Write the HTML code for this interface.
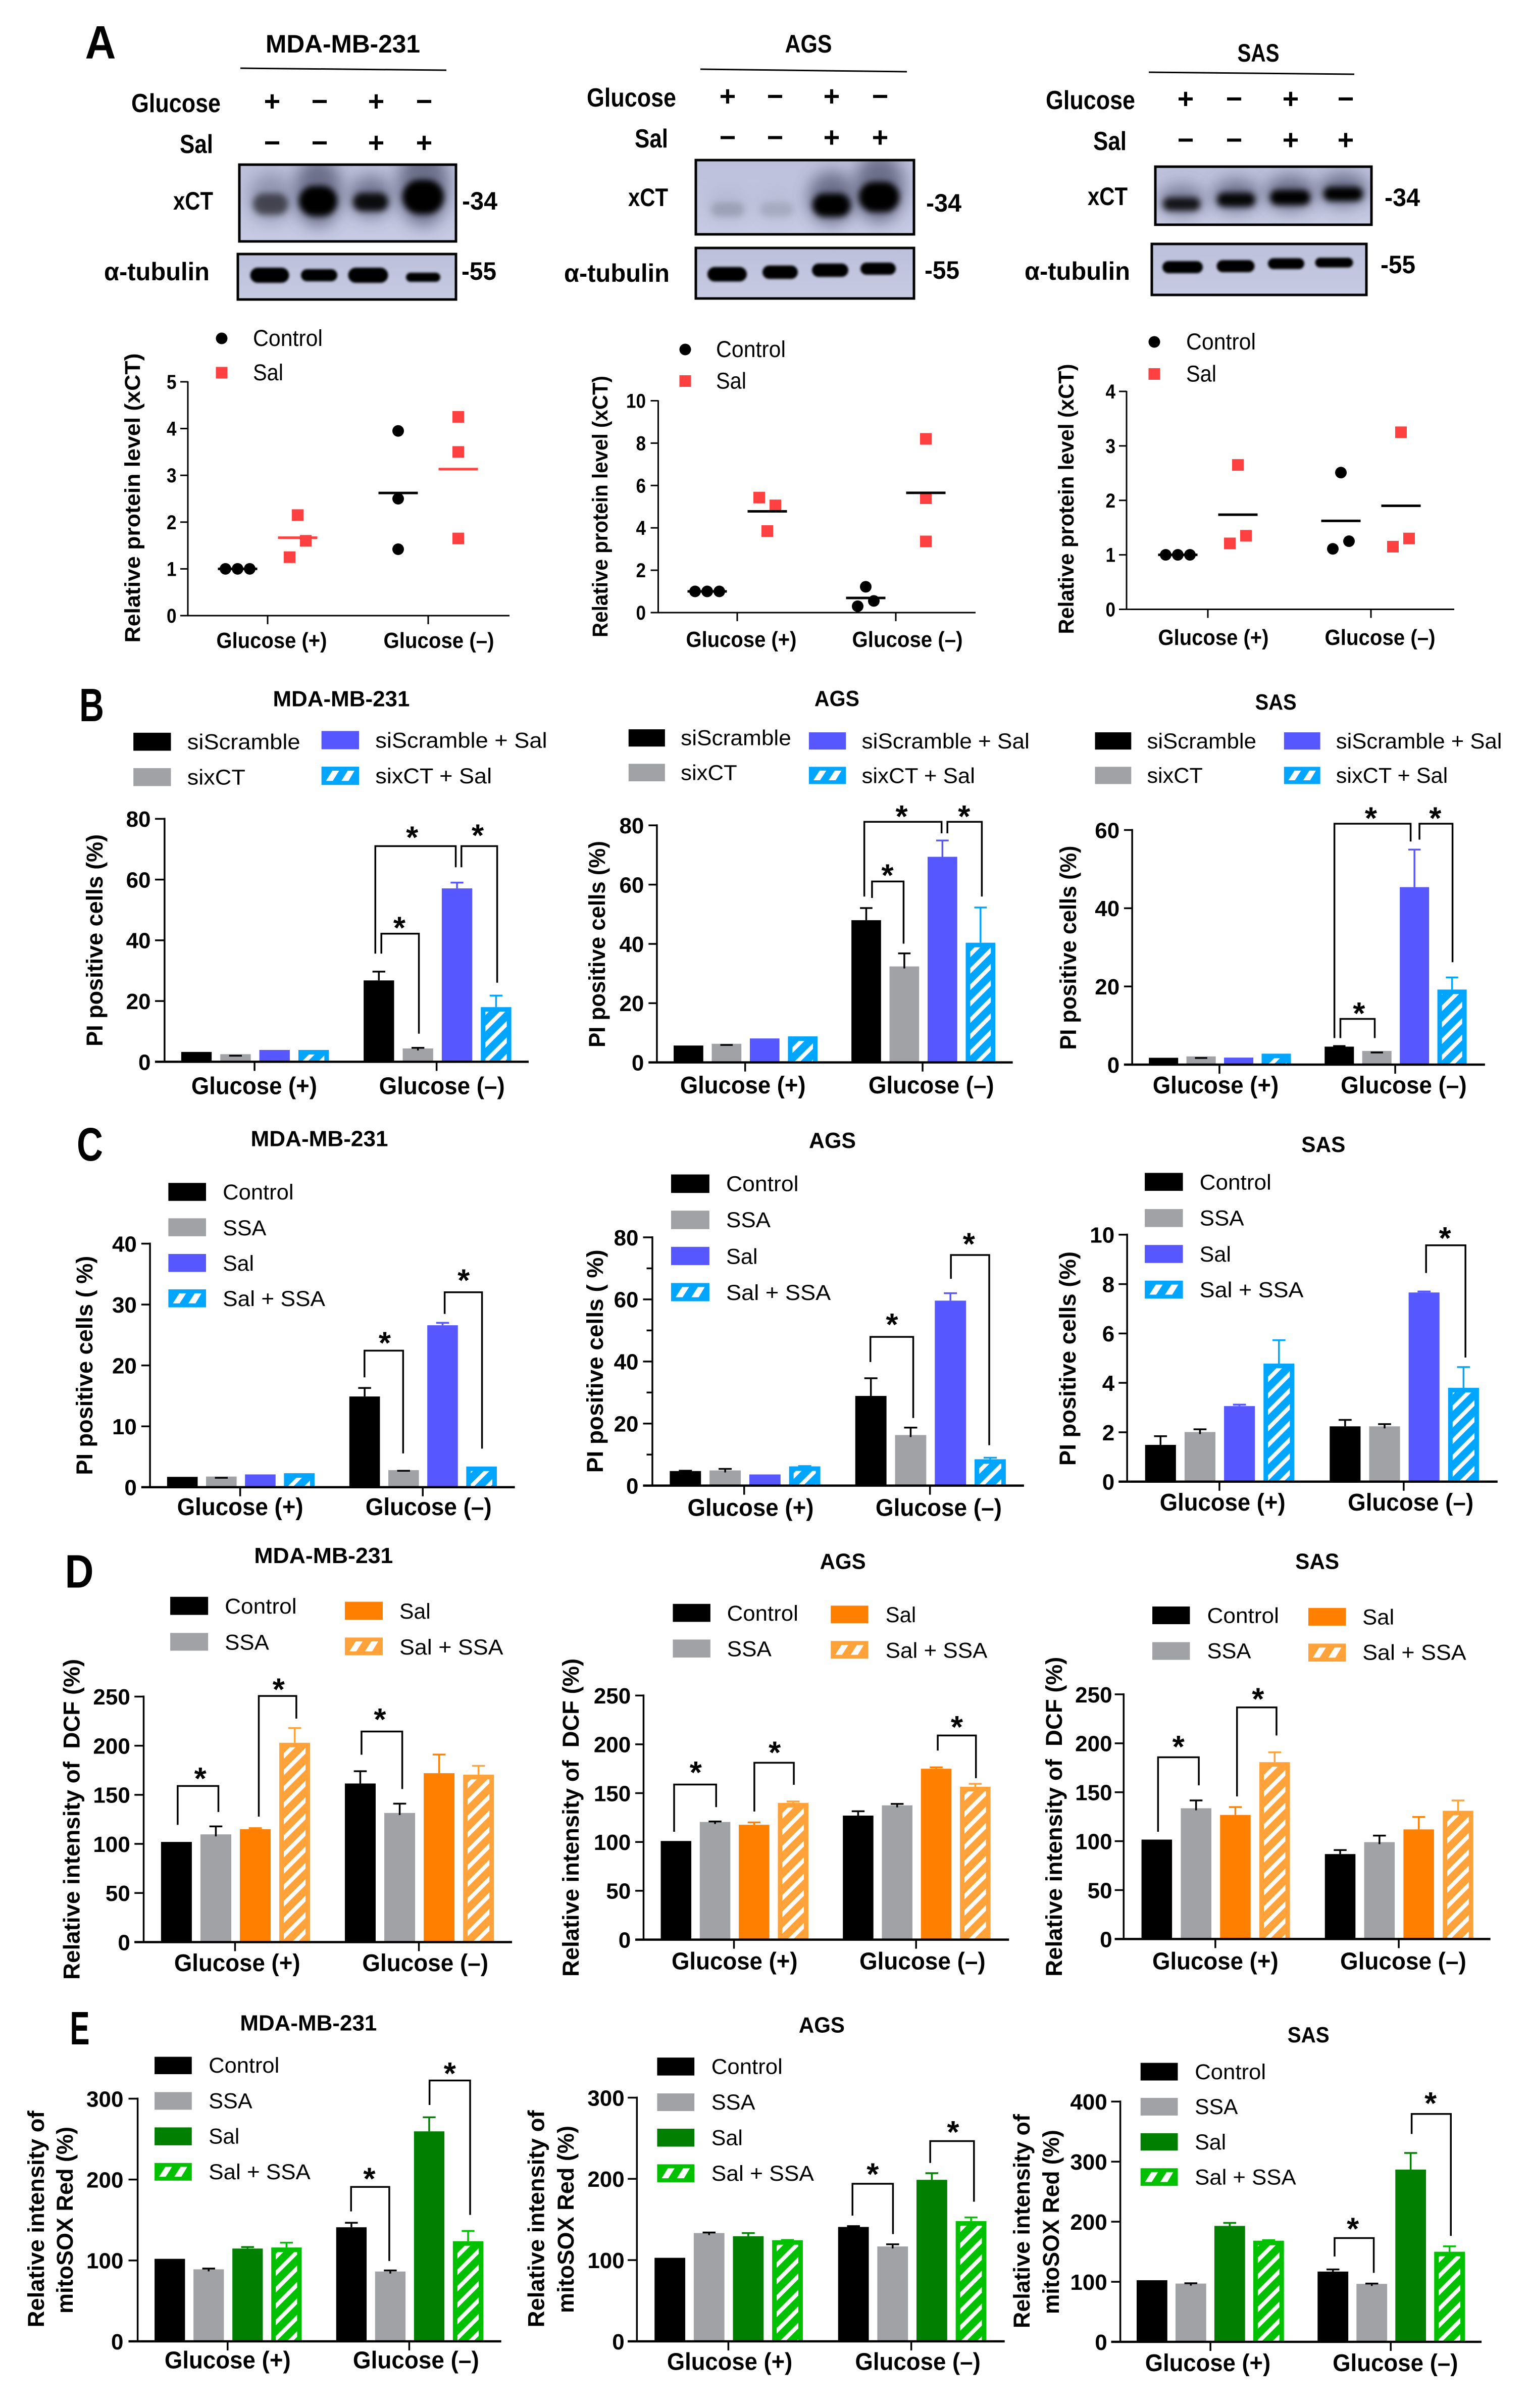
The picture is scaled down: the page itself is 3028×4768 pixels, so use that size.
<!DOCTYPE html>
<html lang="en">
<head>
<meta charset="utf-8">
<title>xCT, PI positive cells, DCF and mitoSOX Red panels</title>
<style>
html,body{margin:0;padding:0;background:#fff;}
svg{display:block;}
text{font-family:"Liberation Sans",Arial,sans-serif;fill:#000;white-space:pre;}
</style>
</head>
<body>
<svg id="figure" xmlns="http://www.w3.org/2000/svg" width="3028" height="4768" viewBox="0 0 3028 4768">
<defs>
<pattern id="stripes" width="23" height="23" patternUnits="userSpaceOnUse" patternTransform="rotate(45)"><rect width="8" height="23" fill="#fff"/></pattern>
<filter id="blur3" x="-50%" y="-100%" width="200%" height="300%"><feGaussianBlur stdDeviation="2.5"/></filter>
<filter id="blur7" x="-50%" y="-100%" width="200%" height="300%"><feGaussianBlur stdDeviation="6"/></filter>
<filter id="blur16" x="-60%" y="-150%" width="220%" height="400%"><feGaussianBlur stdDeviation="16"/></filter>
<linearGradient id="blotBg" x1="0" y1="0" x2="0" y2="1"><stop offset="0" stop-color="#bcc0da"/><stop offset="1" stop-color="#c6cae2"/></linearGradient>
</defs>
</svg>
<script>
/* ---------- shared categories, series names and tick labels ---------- */
const categories = ['Glucose (+)', 'Glucose (–)'];
const seriesSi = ['siScramble', 'sixCT', 'siScramble + Sal', 'sixCT + Sal'];
const seriesSsa = ['Control', 'SSA', 'Sal', 'Sal + SSA'];
const scatterSeries = ['Control', 'Sal'];
const ticksXct5 = [0, 1, 2, 3, 4, 5];
const ticksXct10 = [0, 2, 4, 6, 8, 10];
const ticksXct4 = [0, 1, 2, 3, 4];
const ticks80 = [0, 20, 40, 60, 80];
const ticks60 = [0, 20, 40, 60];
const ticks40 = [0, 10, 20, 30, 40];
const ticks10 = [0, 2, 4, 6, 8, 10];
const ticks250 = [0, 50, 100, 150, 200, 250];
const ticks300 = [0, 100, 200, 300];
const ticks400 = [0, 100, 200, 300, 400];

/* ---------- panel A: relative xCT level, [glucose+, glucose-] ---------- */
const a1Control = [[1, 1, 1], [3.95, 2.5, 1.42]];
const a1Sal = [[1.25, 2.15, 1.6], [4.25, 3.5, 1.65]];
const a1ControlSlots = [[-1, 0, 1], [0, 0, 0]];
const a1SalSlots = [[-1, 0, 1], [0, 0, 0]];
const a2Control = [[1, 1, 1], [1.22, 0.3, 0.55]];
const a2Sal = [[5.43, 5.06, 3.85], [8.2, 5.4, 3.36]];
const a2ControlSlots = [[-1, 0, 1], [0, -1, 1]];
const a2SalSlots = [[-1, 1, 0], [0, 0, 0]];
const a3Control = [[1, 1, 1], [2.51, 1.11, 1.25]];
const a3Sal = [[2.65, 1.21, 1.35], [3.25, 1.15, 1.3]];
const a3ControlSlots = [[-1, 0, 1], [0, -1, 1]];
const a3SalSlots = [[0, -1, 1], [0, -1, 1]];

/* ---------- panel B: PI positive cells ---------- */
const b1Values = [[3.25, 2.5, 3.9, 3.9], [26.8, 4.4, 57.1, 18]];
const b1Errors = [[0, -0.5, 0, 0], [2.9, 0.2, 1.9, 3.8]];
const b2Values = [[5.7, 6.3, 8.1, 8.8], [48, 32.4, 69.4, 40.4]];
const b2Errors = [[0, -0.4, 0, 0], [4.1, 4.4, 5.5, 11.9]];
const b3Values = [[1.75, 2.1, 1.8, 2.8], [4.6, 3.5, 45.4, 19.2]];
const b3Errors = [[0, -0.4, 0, 0], [0.15, -0.4, 9.6, 3.1]];

/* ---------- panel C: PI positive cells with SSA ---------- */
const c1Values = [[1.7, 1.75, 2.1, 2.3], [14.9, 2.8, 26.6, 3.4]];
const c1Errors = [[0, -0.2, 0, 0], [1.4, -0.1, 0.4, 0]];
const c2Values = [[4.7, 4.9, 3.6, 6.2], [28.9, 16.3, 59.6, 8.5]];
const c2Errors = [[0.1, 0.5, 0, 0.1], [5.7, 2.4, 2.4, 0.5]];
const c3Values = [[1.49, 2.01, 3.06, 4.78], [2.24, 2.24, 7.66, 3.8]];
const c3Errors = [[0.35, 0.11, 0.06, 0.95], [0.26, 0.09, 0.04, 0.84]];

/* ---------- panel D: relative DCF intensity ---------- */
const d1Values = [[102, 109.7, 115, 203], [161.5, 131.5, 172, 170.5]];
const d1Errors = [[0, 8.1, 1, 15], [12.5, 9.5, 19, 9]];
const d2Values = [[101, 120.5, 117.6, 140], [127, 137.5, 175, 156.5]];
const d2Errors = [[0, 0.5, 2.4, 1.5], [4.5, 1.5, 1.5, 3]];
const d3Values = [[101.6, 133.6, 126.8, 180.7], [86.8, 99, 112, 131]];
const d3Errors = [[0, 8, 8, 10.1], [4.1, 6.7, 12.7, 10.6]];

/* ---------- panel E: relative mitoSOX Red intensity ---------- */
const e1Values = [[102, 89, 114.7, 116], [141, 86.3, 259.6, 123.8]];
const e1Errors = [[0, 1, 1.9, 6], [5.6, 1.3, 17.4, 12.7]];
const e2Values = [[102.8, 133.3, 129.4, 124.5], [140.8, 116.8, 198.8, 148]];
const e2Errors = [[0, 0.7, 3.9, 0.3], [1, 2.6, 8.2, 4.5]];
const e3Values = [[102.6, 97, 193, 168.4], [117, 96.5, 286.8, 150]];
const e3Errors = [[0, 0.5, 5, 0.9], [3.6, 0.5, 27.7, 9]];

/* ---------- drawing helpers ---------- */
const NS = 'http://www.w3.org/2000/svg';
const root = document.getElementById('figure');
const BLUE = ['#000000', '#a1a2a5', '#5757ff', '#00a5ff'];
const ORANGE = ['#000000', '#a1a2a5', '#ff8000', '#ffa23a'];
const GREEN = ['#000000', '#a1a2a5', '#007f00', '#00c000'];
let clipCount = 0;

function make(parent, tag, attrs) {
  const node = document.createElementNS(NS, tag);
  for (const k in attrs) node.setAttribute(k, attrs[k]);
  parent.appendChild(node);
  return node;
}
function group(parent, name) {
  const g = make(parent, 'g', {});
  
  
  return g;
}
function label(parent, name, str, x, y, size, o) {
  o = o || {};
  const attrs = {'font-size': size, 'font-weight': o.regular ? 'normal' : 'bold', 'text-anchor': o.anchor || 'middle'};
  if (o.rot) { attrs.transform = 'translate(' + x + ',' + y + ') rotate(-90)'; attrs.x = 0; attrs.y = 0; }
  else { attrs.x = x; attrs.y = y; }
  if (o.w) { attrs.textLength = o.w; attrs.lengthAdjust = 'spacingAndGlyphs'; }
  const t = make(parent, 'text', attrs);
  t.textContent = str;
  
  
  return t;
}
function line(parent, name, x1, y1, x2, y2, w, color) {
  const l = make(parent, 'line', {x1: x1, y1: y1, x2: x2, y2: y2, stroke: color || '#000', 'stroke-width': w});
  
  
  return l;
}
function hatchedRect(parent, name, x, y, w, h, color, inset) {
  const r = make(parent, 'rect', {x: x, y: y, width: w, height: h, fill: color});
  
  
  if (h > inset + 1) {
    make(parent, 'rect', {x: x + inset, y: y + inset, width: w - 2 * inset, height: h - inset, fill: 'url(#stripes)'});
  }
}
function legendHatch(parent, x, y, w, h, color) {
  const r = make(parent, 'rect', {x: x, y: y, width: w, height: h, fill: color});
  
  
  const shapes = [[0.12, 0.30, 0.47, 0.29], [0.53, 0.72, 0.88, 0.70]];
  shapes.forEach(function (s) {
    const pts = [[s[0], 0.78], [s[1], 0.78], [s[2], 0.22], [s[3], 0.22]]
      .map(function (p) { return (x + p[0] * w) + ',' + (y + p[1] * h); }).join(' ');
    make(parent, 'polygon', {points: pts, fill: '#fff'});
  });
}

/* ---------- bar panel: layout numbers are in a zoom-space "view" ---------- */
function barPanel(name, view, layout, series, palette, yMax, ticks, values, errors) {
  const X = function (d) { return view.x + d / view.sx; };
  const Y = function (d) { return view.y + d / view.sy; };
  const W = function (d) { return d / view.sx; };
  const g = group(root, name);
  const yBase = Y(layout.y0), yTopPx = Y(layout.yTop), axisX = X(layout.ax);
  const yScale = function (v) { return yBase - (v / yMax) * (yBase - yTopPx); };
  const barWidth = W(layout.barW);
  const xBand = function (grp, i) { return X(layout.starts[grp] + i * layout.step); };

  label(g, 'chart-title', layout.title[0], X(layout.title[1]), Y(layout.title[3]), 44, {w: layout.title[2] });

  /* bars and error bars */
  values.forEach(function (groupValues, gi) {
    groupValues.forEach(function (v, si) {
      const x = xBand(gi, si), top = yScale(v);
      const color = palette[si];
      const errorColor = si === 1 ? '#000' : color;
      if (si === 3) {
        hatchedRect(g, 'bar-hatched', x, top, barWidth, yBase - top, color, 9);
      } else {
        const bar = make(g, 'rect', {x: x, y: top, width: barWidth, height: yBase - top, fill: color});
        
        
      }
      const e = errors[gi][si];
      if (e !== 0) {
        const capY = yScale(v + e), cx = x + barWidth / 2, capW = barWidth * 0.42;
        if (e > 0) line(g, 'error-stem', cx, top + (si === 1 ? 4 : 0), cx, capY, 3.5, errorColor);
        line(g, 'error-cap', cx - capW / 2, capY, cx + capW / 2, capY, 3.5, errorColor);
      }
    });
  });

  /* axes */
  line(g, 'y-axis', axisX, yTopPx - 2, axisX, yBase + 2, 3.5);
  line(g, 'x-axis', X(layout.tl), yBase, X(layout.right), yBase, 4.5);
  ticks.forEach(function (t) {
    line(g, 'y-tick', X(layout.tl), yScale(t), axisX, yScale(t), 3.5);
    label(g, 'y-tick-label', String(t), X(layout.tickRight), yScale(t) + layout.tickSize * 0.36, layout.tickSize, {anchor: 'end'});
  });
  if (layout.minor) {
    for (let i = 0; i < ticks.length - 1; i++) {
      const mid = (ticks[i] + ticks[i + 1]) / 2;
      line(g, 'y-minor-tick', X(layout.minor), yScale(mid), axisX, yScale(mid), 3.5);
    }
  }
  layout.groupTicks.forEach(function (d, i) {
    line(g, 'x-tick', X(d), yBase, X(d), yBase + 18, 3.5);
    label(g, 'x-category-label', categories[i], X(layout.catCenters[i]), Y(layout.catBase), 48, {w: layout.catWidth / view.sx});
  });

  /* y title */
  layout.yTitle.forEach(function (t) {
    label(g, 'y-axis-title', t[0], X(t[1]), Y(t[2]), 45, {rot: true, w: t[3]});
  });

  /* legend */
  series.forEach(function (s, i) {
    const L = layout.legend[i];
    if (i === 3) {
      legendHatch(g, X(L[0]), Y(L[1]), W(L[2]), L[3] / view.sy, palette[3]);
    } else {
      const sw = make(g, 'rect', {x: X(L[0]), y: Y(L[1]), width: W(L[2]), height: L[3] / view.sy, fill: palette[i]});
      
      
    }
    label(g, 'legend-label', s, X(L[4]), Y(L[5]), 43, {regular: true, anchor: 'start', w: W(L[6])});
  });

  /* significance brackets */
  layout.brackets.forEach(function (b) {
    const p = make(g, 'polyline', {
      points: X(b[0]) + ',' + Y(b[3]) + ' ' + X(b[0]) + ',' + Y(b[2]) + ' ' + X(b[1]) + ',' + Y(b[2]) + ' ' + X(b[1]) + ',' + Y(b[4]),
      fill: 'none', stroke: '#000', 'stroke-width': 3.5
    });
    
    
  });
  layout.stars.forEach(function (s) {
    label(g, 'significance-star', '*', X(s[0]), Y(s[1]) + 35, 62);
  });
}

/* ---------- scatter panel (panel A) ---------- */
function scatterPanel(name, layout, yMax, ticks, control, sal, controlSlots, salSlots) {
  const g = group(root, name);
  const yScale = function (v) { return layout.y0 - (v / yMax) * (layout.y0 - layout.yTop); };
  const mean = function (a) { return a.reduce(function (s, v) { return s + v; }, 0) / a.length; };

  line(g, 'y-axis', layout.ax, layout.yTop - 1, layout.ax, layout.y0 + 1, 3);
  line(g, 'x-axis', layout.ax - 15, layout.y0, layout.right, layout.y0, 3);
  ticks.forEach(function (t) {
    line(g, 'y-tick', layout.ax - 15, yScale(t), layout.ax, yScale(t), 3);
    label(g, 'y-tick-label', String(t), layout.tickRight, yScale(t) + 14, 40, {anchor: 'end', w: 19.5 * String(t).length});
  });
  layout.groupTicks.forEach(function (tx, gi) {
    line(g, 'x-tick', tx, layout.y0, tx, layout.y0 + 17, 3);
    label(g, 'x-category-label', categories[gi], layout.catCenters[gi], layout.catBase, 44, {w: 219});
    [control[gi], sal[gi]].forEach(function (vals, si) {
      const cx = tx + (si === 0 ? -59.5 : 59.5);
      const slots = si === 0 ? controlSlots[gi] : salSlots[gi];
      const same = Math.max.apply(null, vals) - Math.min.apply(null, vals) < 0.01;
      const spread = same ? 24 : 16;
      vals.forEach(function (v, i) {
        const px = cx + slots[i] * spread, py = yScale(v);
        if (si === 0) {
          const c = make(g, 'circle', {cx: px, cy: py, r: 11.5, fill: '#000'});
          
          
        } else {
          const r = make(g, 'rect', {x: px - 11.5, y: py - 11.5, width: 23, height: 23, fill: '#ff4040'});
          
          
        }
      });
      const my = yScale(mean(vals));
      const meanColor = si === 1 ? layout.salMeanColor : '#000';
      line(g, 'mean-line', cx - 39, my, cx + 39, my, 5, meanColor);
    });
  });
  label(g, 'y-axis-title', 'Relative protein level (xCT)', layout.yTitle[0], layout.yTitle[1], 43, {rot: true, w: layout.yTitle[2]});
  const lg = layout.legend;
  const dot = make(g, 'circle', {cx: lg.x, cy: lg.y1, r: 11.5, fill: '#000'});
  
  
  const sq = make(g, 'rect', {x: lg.x - 11.5, y: lg.y2 - 11.5, width: 23, height: 23, fill: '#ff4040'});
  
  
  label(g, 'legend-label', scatterSeries[0], lg.tx, lg.y1 + 15, 45, {regular: true, anchor: 'start', w: 138});
  label(g, 'legend-label', scatterSeries[1], lg.tx, lg.y2 + 15, 45, {regular: true, anchor: 'start', w: 60});
}

/* ---------- western blot header block ---------- */
function blot(parent, name, x, y, w, h, bands, sharp) {
  const id = 'blotClip' + (++clipCount);
  const defs = make(parent, 'clipPath', {id: id});
  make(defs, 'rect', {x: x, y: y, width: w, height: h});
  const g = group(parent, name);
  g.setAttribute('clip-path', 'url(#' + id + ')');
  make(g, 'rect', {x: x, y: y, width: w, height: h, fill: 'url(#blotBg)'});
  bands.forEach(function (b) {
    const bh = sharp ? b[3] * 1.2 : b[3];
    if (!sharp) {
      make(g, 'ellipse', {cx: b[0], cy: b[1] - bh * 0.3, rx: b[2] * 0.62, ry: bh * 1.15, fill: '#484c68', opacity: b[4] * 0.7, filter: 'url(#blur16)'});
    }
    make(g, 'rect', {x: b[0] - b[2] / 2, y: b[1] - bh / 2, width: b[2], height: bh, rx: bh * 0.5, ry: bh * 0.5, fill: '#000006', opacity: b[4], filter: sharp ? 'url(#blur3)' : 'url(#blur7)'});
  });
  const frame = make(parent, 'rect', {x: x, y: y, width: w, height: h, fill: 'none', stroke: '#000', 'stroke-width': 5});
  
  
}
function blotHeader(name, o) {
  const g = group(root, name);
  label(g, 'cell-line-title', o.title[0], o.title[1], o.title[2], 50, {w: o.title[3]});
  line(g, 'cell-line-underline', o.rule[0], o.rule[1], o.rule[2], o.rule[3], 3);
  label(g, 'glucose-row-label', 'Glucose', o.glucose[0], o.glucose[1], 52, {anchor: 'end', w: 177});
  label(g, 'sal-row-label', 'Sal', o.sal[0], o.sal[1], 52, {anchor: 'end', w: 66});
  ['+', '−', '+', '−'].forEach(function (s, i) {
    label(g, 'glucose-sign', s, o.lanes[i], o.rowY[0] + 18, 56);
  });
  ['−', '−', '+', '+'].forEach(function (s, i) {
    label(g, 'sal-sign', s, o.lanes[i], o.rowY[1] + 18, 56);
  });
  blot(g, 'xct-blot', o.xct[0], o.xct[1], o.xct[2], o.xct[3], o.xctBands, false);
  blot(g, 'tubulin-blot', o.tub[0], o.tub[1], o.tub[2], o.tub[3], o.tubBands, true);
  label(g, 'xct-label', 'xCT', o.xctLabel[0], o.xctLabel[1], 50, {anchor: 'end', w: 79});
  label(g, 'tubulin-label', 'α-tubulin', o.tubLabel[0], o.tubLabel[1], 50, {anchor: 'end', w: 209});
  label(g, 'marker-34', '-34', o.m34[0], o.m34[1], 50, {anchor: 'start', w: 70});
  label(g, 'marker-55', '-55', o.m55[0], o.m55[1], 50, {anchor: 'start', w: 69});
}

/* ---------- panel letters ---------- */
const lettersGroup = group(root, 'panel-letters');
label(lettersGroup, 'panel-letter-a', 'A', 199, 116, 93, {w: 61});
label(lettersGroup, 'panel-letter-b', 'B', 181.5, 1428, 93, {w: 49});
label(lettersGroup, 'panel-letter-c', 'C', 178, 2298, 93, {w: 52});
label(lettersGroup, 'panel-letter-d', 'D', 157, 3143.6, 93, {w: 57});
label(lettersGroup, 'panel-letter-e', 'E', 158, 4048, 93, {w: 39});

/* ---------- panel A blots ---------- */
blotHeader('blot-mda', {
  title: ['MDA-MB-231', 679, 104, 306], rule: [476, 135, 884, 139],
  glucose: [437, 222], sal: [422, 303], lanes: [539, 633, 745, 840], rowY: [201.5, 283.6],
  xct: [474, 326, 429, 152], tub: [471, 503, 432, 90],
  xctBands: [[536, 404, 70, 42, 0.55], [630, 398, 76, 60, 1], [734, 400, 70, 36, 0.9], [838, 390, 82, 68, 1]],
  tubBands: [[534, 545, 77, 25, 1], [632, 545, 72, 20, 1], [729, 545, 79, 25, 1], [838, 549, 68, 15, 1]],
  xctLabel: [422, 415], tubLabel: [415, 555], m34: [915, 415], m55: [914, 554]
});
blotHeader('blot-ags', {
  title: ['AGS', 1601, 104, 93], rule: [1387, 137, 1796, 142],
  glucose: [1339, 211], sal: [1323, 292], lanes: [1441, 1535, 1647, 1743], rowY: [191.5, 273],
  xct: [1378, 317, 432, 147], tub: [1378, 491, 432, 100],
  xctBands: [[1441, 415, 66, 28, 0.14], [1538, 415, 66, 28, 0.1], [1647, 406, 76, 46, 1], [1741, 390, 80, 60, 1]],
  tubBands: [[1440, 543, 78, 24, 1], [1545, 539, 70, 22, 1], [1644, 535, 72, 22, 1], [1739, 532, 70, 20, 1]],
  xctLabel: [1323, 408], tubLabel: [1326, 558], m34: [1834, 419], m55: [1831, 552]
});
blotHeader('blot-sas', {
  title: ['SAS', 2492, 122, 83], rule: [2275, 143, 2682, 147],
  glucose: [2248, 216], sal: [2231, 297], lanes: [2348, 2444, 2556, 2665], rowY: [196.5, 278],
  xct: [2288, 330, 428, 115], tub: [2281, 483, 425, 101],
  xctBands: [[2340, 404, 74, 26, 0.85], [2448, 395.5, 76, 28, 0.95], [2555, 391, 80, 30, 1], [2660, 384, 78, 28, 1]],
  tubBands: [[2342, 529, 80, 20, 1], [2447, 527, 75, 20, 1], [2547, 522, 72, 18, 1], [2642, 520, 75, 16, 1]],
  xctLabel: [2233, 406], tubLabel: [2238, 554], m34: [2742, 408], m55: [2734, 541]
});

/* ---------- panel A scatter plots ---------- */
scatterPanel('scatter-xct-mda', {
  ax: 372, y0: 1219, yTop: 756, right: 1009, tickRight: 349.5, groupTicks: [530, 848], catCenters: [538, 869], catBase: 1283,
  yTitle: [277, 986, 573], salMeanColor: '#ff4040', legend: {x: 439, y1: 670, y2: 738, tx: 501}
}, 5, ticksXct5, a1Control, a1Sal, a1ControlSlots, a1SalSlots);
scatterPanel('scatter-xct-ags', {
  ax: 1303.5, y0: 1213, yTop: 793.5, right: 1932, tickRight: 1279, groupTicks: [1460, 1774], catCenters: [1468, 1797], catBase: 1281,
  yTitle: [1203, 1003, 518], salMeanColor: '#000', legend: {x: 1357, y1: 692, y2: 754.5, tx: 1418}
}, 10, ticksXct10, a2Control, a2Sal, a2ControlSlots, a2SalSlots);
scatterPanel('scatter-xct-sas', {
  ax: 2231, y0: 1206.5, yTop: 775, right: 2880, tickRight: 2209, groupTicks: [2392, 2715], catCenters: [2403, 2733], catBase: 1277,
  yTitle: [2126, 988, 535], salMeanColor: '#000', legend: {x: 2286, y1: 677, y2: 740.5, tx: 2349}
}, 4, ticksXct4, a3Control, a3Sal, a3ControlSlots, a3SalSlots);

/* ---------- panel B ---------- */
barPanel('pi-si-mda', {x: 100, y: 1320, sx: 1.4255, sy: 1.742}, {
  ax: 322, y0: 1363, yTop: 525, right: 1350, tl: 295, groupTicks: [576, 1090], starts: [369, 884], barW: 86, step: 110.3,
  tickRight: 283, tickSize: 44, catCenters: [575, 1105], catBase: 1475, catWidth: 355,
  title: ['MDA-MB-231', 821, 271, 137], yTitle: [['PI positive cells (%)', 147, 944, 420]],
  legend: [[234, 228, 106, 62, 386, 285, 319], [234, 350, 106, 62, 386, 407, 164], [765, 222, 106, 63, 917, 280, 485], [765, 345, 106, 63, 917, 402, 329]],
  brackets: [[917, 1144, 619, 990, 692], [1160, 1261, 619, 692, 1090], [934, 1040, 921, 990, 1266]],
  stars: [[1021, 565], [1206, 558], [985, 877]]
}, seriesSi, BLUE, 80, ticks80, b1Values, b1Errors);
barPanel('pi-si-ags', {x: 1130, y: 1340, sx: 1.568, sy: 1.845}, {
  ax: 268, y0: 1409, yTop: 543, right: 1373, tl: 242, groupTicks: [542, 1093], starts: [320, 872], barW: 92, step: 118.3,
  tickRight: 228, tickSize: 44, catCenters: [535, 1120], catBase: 1522, catWidth: 390,
  title: ['AGS', 827, 89, 107], yTitle: [['PI positive cells (%)', 107, 977, 409]],
  legend: [[180, 192, 113, 63, 342, 250, 343], [180, 318, 113, 64, 342, 377, 175], [740, 203, 115, 63, 904, 262, 521], [740, 329, 115, 63, 904, 388, 352]],
  brackets: [[912, 1152, 530, 803, 572], [1170, 1277, 530, 572, 803], [936, 1034, 748, 808, 975]],
  stars: [[1028, 485], [1222, 485], [984, 700]]
}, seriesSi, BLUE, 80, ticks80, b2Values, b2Errors);
barPanel('pi-si-sas', {x: 2050, y: 1340, sx: 1.603, sy: 1.845}, {
  ax: 308, y0: 1417, yTop: 560, right: 1428, tl: 282, groupTicks: [585, 1143], starts: [361, 919], barW: 93, step: 119.3,
  tickRight: 268, tickSize: 44, catCenters: [573, 1170], catBase: 1522, catWidth: 400,
  title: ['SAS', 764, 82, 120], yTitle: [['PI positive cells (%)', 130, 990, 404]],
  legend: [[190, 203, 115, 63, 355, 262, 347], [190, 329, 115, 63, 355, 387, 177], [790, 203, 115, 63, 955, 262, 527], [790, 329, 115, 63, 955, 387, 355]],
  brackets: [[950, 1192, 537, 1320, 602], [1220, 1325, 537, 595, 1043], [969, 1078, 1250, 1320, 1320]],
  stars: [[1066, 492], [1270, 492], [1028, 1205]]
}, seriesSi, BLUE, 60, ticks60, b3Values, b3Errors);

/* ---------- panel C ---------- */
barPanel('pi-ssa-mda', {x: 100, y: 2200, sx: 1.568, sy: 1.912}, {
  ax: 309, y0: 1424, yTop: 502, right: 1442, tl: 282, groupTicks: [589, 1156], starts: [362, 928], barW: 95, step: 121,
  tickRight: 268, tickSize: 44, catCenters: [589, 1174], catBase: 1530, catWidth: 392,
  title: ['MDA-MB-231', 835, 272, 133], yTitle: [['PI positive cells ( %)', 130, 963, 434]],
  legend: [[366, 272, 117, 68, 535, 335, 220], [366, 406, 117, 68, 535, 470, 135], [366, 541, 117, 68, 535, 604, 97], [366, 675, 117, 68, 535, 738, 318]],
  brackets: [[975, 1095, 907, 1008, 1296], [1224, 1340, 686, 768, 1278]],
  stars: [[1038, 852], [1283, 615]]
}, seriesSsa, BLUE, 40, ticks40, c1Values, c1Errors);
barPanel('pi-ssa-ags', {x: 1100, y: 2200, sx: 1.568, sy: 1.912}, {
  ax: 301, y0: 1418, yTop: 478, right: 1455, tl: 272, minor: 283, groupTicks: [586, 1163], starts: [355, 931], barW: 97, step: 123.5,
  tickRight: 258, tickSize: 44, catCenters: [606, 1190], catBase: 1532, catWidth: 392,
  title: ['AGS', 860, 93, 140], yTitle: [['PI positive cells ( %)', 147, 947, 442]],
  legend: [[359, 240, 119, 70, 530, 303, 225], [359, 377, 119, 70, 530, 440, 138], [359, 514, 119, 69, 530, 578, 98], [359, 651, 119, 69, 530, 715, 325]],
  brackets: [[978, 1111, 855, 950, 1162], [1228, 1347, 545, 635, 1265]],
  stars: [[1045, 782], [1284, 477]]
}, seriesSsa, BLUE, 80, ticks80, c2Values, c2Errors);
barPanel('pi-ssa-sas', {x: 2050, y: 2200, sx: 1.603, sy: 1.912}, {
  ax: 292, y0: 1403, yTop: 468, right: 1468, tl: 265, groupTicks: [585, 1170], starts: [349, 935], barW: 98, step: 125.3,
  tickRight: 252, tickSize: 44, catCenters: [595, 1192], catBase: 1512, catWidth: 399,
  title: ['SAS', 915, 87, 155], yTitle: [['PI positive cells (%)', 128, 937, 424]],
  legend: [[348, 234, 121, 68, 522, 297, 228], [348, 371, 121, 68, 522, 433, 141], [348, 507, 121, 68, 522, 570, 100], [348, 642, 121, 68, 522, 705, 330]],
  brackets: [[1241, 1366, 508, 613, 933]],
  stars: [[1301, 455]]
}, seriesSsa, BLUE, 10, ticks10, c3Values, c3Errors);

/* ---------- panel D ---------- */
barPanel('dcf-mda', {x: 100, y: 3000, sx: 1.4255, sy: 1.65}, {
  ax: 263, y0: 1395, yTop: 593, right: 1303, tl: 237, groupTicks: [521, 1040], starts: [312, 831], barW: 87, step: 111.3,
  tickRight: 225, tickSize: 44, catCenters: [527, 1058], catBase: 1490, catWidth: 356,
  title: ['MDA-MB-231', 771, 275, 157], yTitle: [['Relative intensity of  DCF (%)', 82, 994, 635]],
  legend: [[338, 267, 107, 59, 492, 322, 203], [338, 385, 107, 58, 492, 440, 125], [831, 283, 107, 59, 985, 338, 88], [831, 400, 107, 58, 985, 455, 293]],
  brackets: [[359, 474, 885, 1012, 970], [588, 694, 591, 985, 665], [878, 993, 707, 783, 895]],
  stars: [[423, 838], [644, 547], [930, 645]]
}, seriesSsa, ORANGE, 250, ticks250, d1Values, d1Errors);
barPanel('dcf-ags', {x: 1050, y: 3030, sx: 0.793, sy: 1.742}, {
  ax: 178, y0: 1412, yTop: 570, right: 752, tl: 165, groupTicks: [320, 606], starts: [205, 491], barW: 48, step: 61.3,
  tickRight: 158, tickSize: 44, catCenters: [321, 616], catBase: 1515, catWidth: 198,
  title: ['AGS', 491, 91, 133], yTitle: [['Relative intensity of  DCF (%)', 76, 991, 630]],
  legend: [[224, 254, 59, 62, 309, 312, 112], [224, 377, 59, 62, 309, 435, 70], [472, 260, 59, 61, 558, 317, 48], [472, 382, 59, 61, 558, 440, 160]],
  brackets: [[226, 292, 877, 1040, 955], [352, 414, 802, 970, 878], [640, 700, 708, 760, 855]],
  stars: [[260, 812], [384, 743], [670, 655]]
}, seriesSsa, ORANGE, 250, ticks250, d2Values, d2Errors);
barPanel('dcf-sas', {x: 1050, y: 3030, sx: 0.793, sy: 1.742}, {
  ax: 932, y0: 1410, yTop: 566, right: 1508, tl: 918, groupTicks: [1076, 1364], starts: [960, 1248], barW: 48, step: 61.7,
  tickRight: 914, tickSize: 44, catCenters: [1076, 1371], catBase: 1515, catWidth: 198,
  title: ['SAS', 1236, 87, 133], yTitle: [['Relative intensity of  DCF (%)', 835, 988, 633]],
  legend: [[977, 263, 59, 61, 1063, 320, 113], [977, 386, 59, 61, 1063, 442, 69], [1222, 268, 59, 61, 1307, 325, 50], [1222, 391, 59, 62, 1307, 447, 163]],
  brackets: [[986, 1050, 783, 1040, 880], [1110, 1172, 611, 918, 708]],
  stars: [[1018, 723], [1143, 558]]
}, seriesSsa, ORANGE, 250, ticks250, d3Values, d3Errors);

/* ---------- panel E ---------- */
barPanel('mitosox-mda', {x: 0, y: 3950, sx: 1.493, sy: 1.917}, {
  ax: 407, y0: 1315, yTop: 394, right: 1482, tl: 380, groupTicks: [673, 1210], starts: [457, 994], barW: 90, step: 115,
  tickRight: 365, tickSize: 44, catCenters: [673, 1230], catBase: 1418, catWidth: 373,
  title: ['MDA-MB-231', 912, 271, 135], yTitle: [['Relative intensity of', 130, 851, 429], ['mitoSOX Red (%)', 215, 855, 370]],
  legend: [[457, 235, 110, 66, 617, 295, 209], [457, 369, 110, 67, 617, 430, 129], [457, 503, 110, 68, 617, 565, 91], [457, 638, 110, 67, 617, 700, 301]],
  brackets: [[1038, 1151, 729, 822, 1010], [1270, 1390, 325, 418, 835]],
  stars: [[1092, 672], [1330, 272]]
}, seriesSsa, GREEN, 300, ticks300, e1Values, e1Errors);
barPanel('mitosox-ags', {x: 1000, y: 3950, sx: 0.773, sy: 1.917}, {
  ax: 202, y0: 1315, yTop: 390, right: 765, tl: 188, groupTicks: [342, 622], starts: [229, 510], barW: 47, step: 60,
  tickRight: 183, tickSize: 44, catCenters: [344, 632], catBase: 1423, catWidth: 192,
  title: ['AGS', 485, 91, 143], yTitle: [['Relative intensity of', 60, 850, 430], ['mitoSOX Red (%)', 105, 852, 371]],
  legend: [[233, 238, 57, 68, 316, 300, 109], [233, 374, 57, 67, 316, 435, 67], [233, 508, 57, 68, 316, 570, 48], [233, 643, 57, 68, 316, 705, 157]],
  brackets: [[532, 594, 717, 838, 908], [651, 718, 555, 638, 785]],
  stars: [[563, 655], [686, 495]]
}, seriesSsa, GREEN, 300, ticks300, e2Values, e2Errors);
barPanel('mitosox-sas', {x: 1000, y: 3950, sx: 0.773, sy: 1.917}, {
  ax: 942, y0: 1317, yTop: 405, right: 1495, tl: 928, groupTicks: [1080, 1356], starts: [967, 1244], barW: 47, step: 59.5,
  tickRight: 922, tickSize: 44, catCenters: [1076, 1363], catBase: 1428, catWidth: 192,
  title: ['SAS', 1230, 83, 180], yTitle: [['Relative intensity of', 803, 859, 424], ['mitoSOX Red (%)', 848, 862, 365]],
  legend: [[973, 258, 57, 67, 1056, 320, 109], [973, 391, 57, 67, 1056, 452, 66], [973, 525, 57, 66, 1056, 587, 48], [973, 658, 57, 67, 1056, 720, 155]],
  brackets: [[1270, 1330, 923, 993, 1055], [1388, 1448, 452, 528, 915]],
  stars: [[1298, 862], [1417, 385]]
}, seriesSsa, GREEN, 400, ticks400, e3Values, e3Errors);
</script>
</body>
</html>
